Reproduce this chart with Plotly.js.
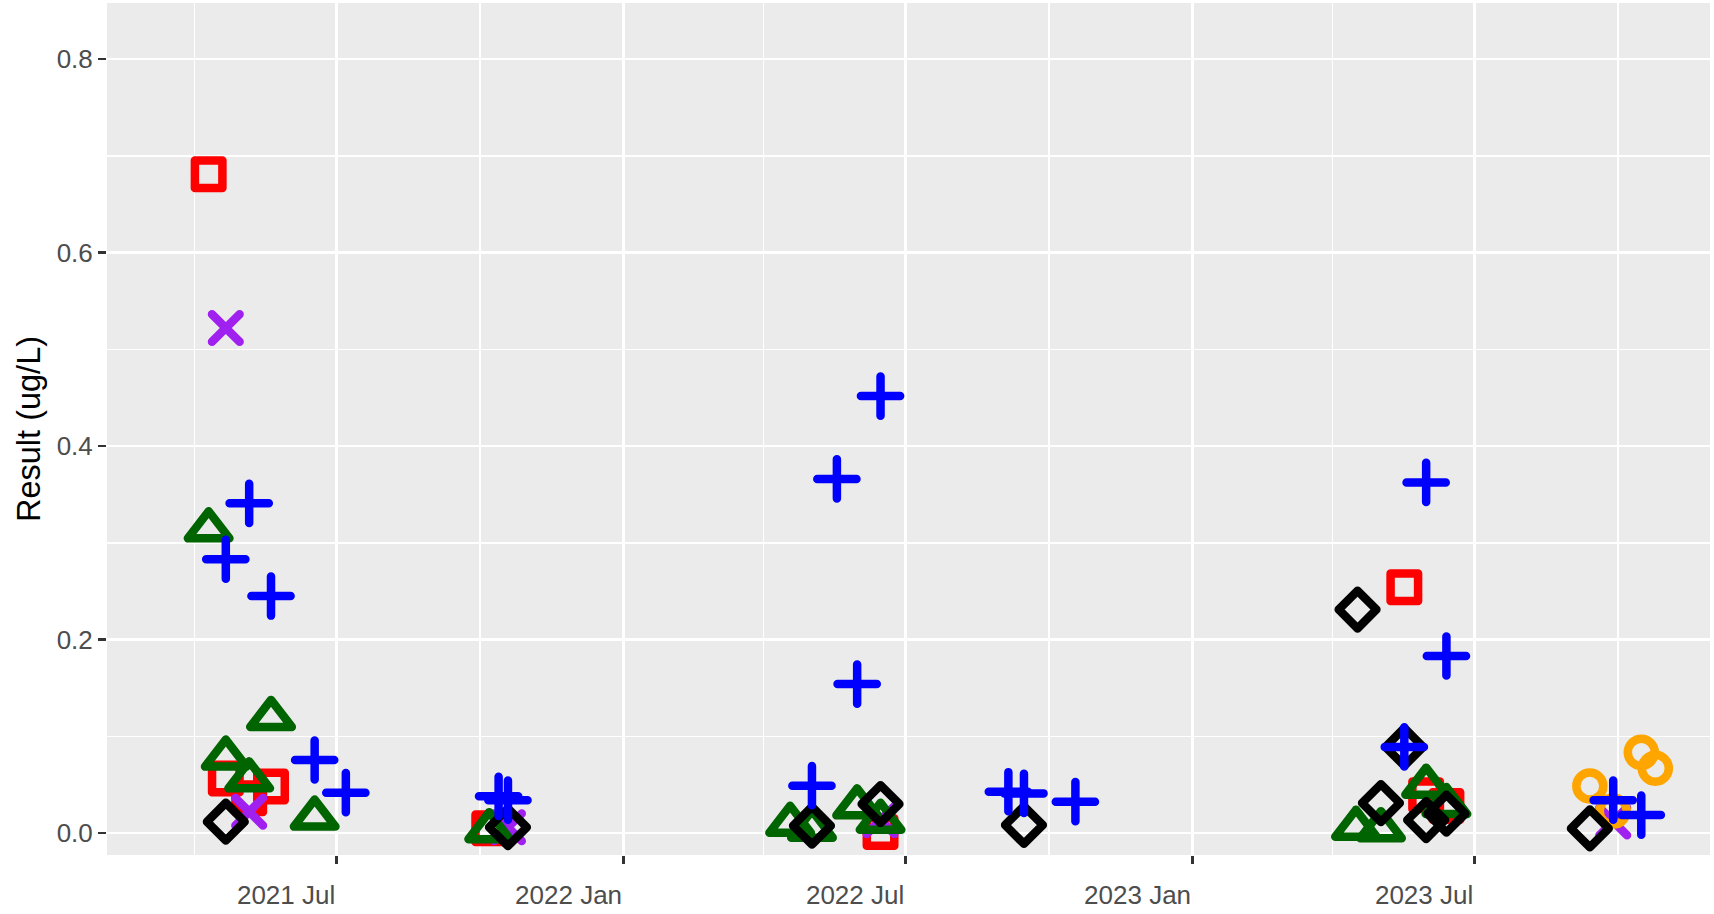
<!DOCTYPE html>
<html>
<head>
<meta charset="utf-8">
<script src="https://cdn.plot.ly/plotly-3.0.1.min.js"></script>
<style>
html,body{margin:0;padding:0;background:#ffffff;}
#chart{width:1714px;height:914px;}
.scatterlayer path.point{stroke-linecap:round;stroke-linejoin:round;}
</style>
</head>
<body>
<div id="chart"></div>
<script>
// ---- data ----
const redDates = ['2021-04-10','2021-04-21','2021-05-06','2021-05-20','2021-10-07','2022-06-15','2023-05-17','2023-05-31','2023-06-13'];
const redVals  = [0.681, 0.0565, 0.036, 0.048, 0.005, 0.001, 0.254, 0.039, 0.028];

const purpleDates = ['2021-04-21','2021-05-06','2021-10-19','2022-06-15','2023-09-28'];
const purpleVals  = [0.522, 0.022, 0.006, 0.0134, 0.012];

const greenDates = ['2021-04-10','2021-04-21','2021-05-06','2021-05-20','2021-06-17','2021-10-07','2022-04-18','2022-05-02','2022-05-31','2022-06-15','2023-04-16','2023-05-02','2023-05-31','2023-06-13'];
const greenVals  = [0.314, 0.078, 0.0555, 0.119, 0.016, 0.003, 0.0096, 0.0045, 0.0276, 0.0127, 0.0055, 0.004, 0.049, 0.029];

const orangeDates = ['2023-09-13','2023-09-28','2023-10-16','2023-10-25'];
const orangeVals  = [0.0486, 0.0227, 0.0834, 0.0669];

const blackDates = ['2021-04-21','2021-10-19','2022-05-02','2022-06-15','2022-09-15','2023-04-17','2023-05-02','2023-05-17','2023-05-31','2023-06-13','2023-09-13'];
const blackVals  = [0.0117, 0.006, 0.0076, 0.030, 0.0083, 0.231, 0.031, 0.089, 0.0134, 0.020, 0.0048];

const blueDates = ['2021-04-21','2021-05-06','2021-05-20','2021-06-17','2021-07-07','2021-10-13','2021-10-19','2022-05-02','2022-05-18','2022-05-31','2022-06-15','2022-09-05','2022-09-15','2022-10-18','2023-05-17','2023-05-31','2023-06-13','2023-09-28','2023-10-16'];
const blueVals  = [0.283, 0.3408, 0.245, 0.0755, 0.0417, 0.038, 0.034, 0.049, 0.366, 0.154, 0.4517, 0.0427, 0.041, 0.0324, 0.089, 0.3624, 0.183, 0.034, 0.0186];

const yTickVals = [0, 0.2, 0.4, 0.6, 0.8];
const yTickText = ['0.0', '0.2', '0.4', '0.6', '0.8'];

// ---- styling ----
const LW = 8.5;
function series(x, y, symbol, color, size) {
  return {
    type: 'scatter', mode: 'markers', x: x, y: y, showlegend: false, hoverinfo: 'x+y',
    marker: { symbol: symbol, size: size, color: color, line: { width: LW, color: color } }
  };
}

const traces = [
  series(redDates, redVals, 'square-open', '#FF0000', 27.5),
  series(purpleDates, purpleVals, 'x-thin-open', '#A020F0', 27.6),
  series(greenDates, greenVals, 'triangle-up-open', '#006400', 36),
  series(orangeDates, orangeVals, 'circle-open', '#FFA500', 27),
  series(blackDates, blackVals, 'diamond-open', '#000000', 29),
  series(blueDates, blueVals, 'cross-thin-open', '#0000FF', 28)
];

const tickFont = { family: 'Liberation Sans, Arial, sans-serif', size: 26, color: '#4D4D4D' };

const layout = {
  width: 1714, height: 914,
  margin: { l: 107, r: 4, t: 3, b: 59, pad: 0 },
  paper_bgcolor: '#FFFFFF',
  plot_bgcolor: '#EBEBEB',
  font: { family: 'Liberation Sans, Arial, sans-serif', color: '#000000' },
  xaxis: {
    type: 'date',
    range: ['2021-02-03 19:00', '2023-11-29 02:00'],
    tick0: '2021-01-01', dtick: 'M6', tickformat: '%Y %b',
    ticks: 'outside', ticklen: 8, tickwidth: 2.5, tickcolor: '#333333',
    ticklabelposition: 'outside left',
    ticklabelstandoff: 17,
    tickfont: tickFont,
    showgrid: true, gridcolor: '#FFFFFF', gridwidth: 2.7,
    minor: { tick0: '2021-01-01', dtick: 'M3', showgrid: true, gridcolor: '#FFFFFF', gridwidth: 1.4, ticks: '' },
    zeroline: false, showline: false, automargin: false
  },
  yaxis: {
    range: [-0.0227, 0.858],
    tickvals: yTickVals, ticktext: yTickText,
    ticks: 'outside', ticklen: 8, tickwidth: 2.5, tickcolor: '#333333',
    tickfont: tickFont,
    showgrid: true, gridcolor: '#FFFFFF', gridwidth: 2.7,
    minor: { dtick: 0.1, tick0: 0, showgrid: true, gridcolor: '#FFFFFF', gridwidth: 1.4, ticks: '' },
    zeroline: false, showline: false, automargin: false,
    title: { text: 'Result (ug/L)', font: { size: 32.5, color: '#000000' }, standoff: 6 }
  }
};

Plotly.newPlot('chart', traces, layout, { displayModeBar: false, staticPlot: true });
</script>
</body>
</html>
